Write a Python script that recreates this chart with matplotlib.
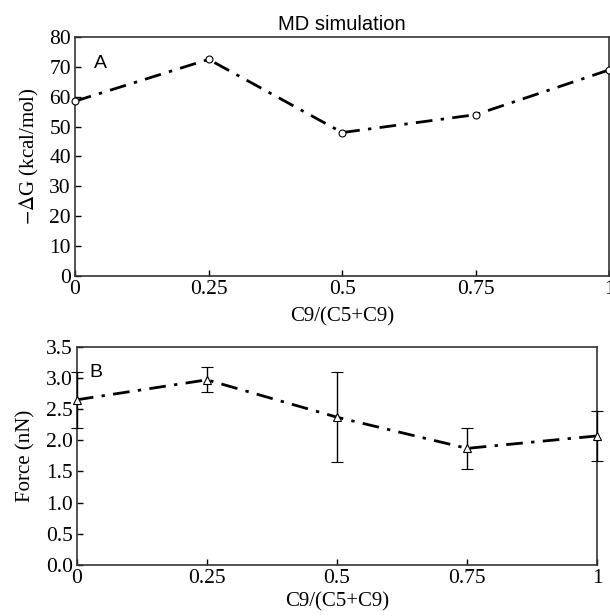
import matplotlib
matplotlib.use("Agg")
import matplotlib.pyplot as plt

# composition ratio C9/(C5+C9)
ratio = [0, 0.25, 0.5, 0.75, 1]
ratio_labels = ["0", "0.25", "0.5", "0.75", "1"]

# panel A: binding free energy from MD
neg_dG = [58.5, 72.5, 48.0, 54.0, 69.0]

# panel B: measured force with error bars
force = [2.65, 2.97, 2.37, 1.87, 2.07]
force_err = [0.45, 0.20, 0.72, 0.33, 0.40]

plt.rcParams['font.family'] = ['Liberation Serif', 'DejaVu Serif']
plt.rcParams['mathtext.fontset'] = 'stix'

fig = plt.figure(figsize=(6.10, 6.16), dpi=100)
ax1 = fig.add_axes([0.123, 0.552, 0.876, 0.388])
ax2 = fig.add_axes([0.126, 0.083, 0.853, 0.354])

dash = (6, 3, 1.2, 3)

# top panel
ax1.plot(ratio, neg_dG, color='black', lw=2, dashes=dash, marker='o',
         ms=5, mfc='white', mec='black', mew=0.8, clip_on=False, zorder=3)
ax1.set_xlim(0, 1)
ax1.set_ylim(0, 80)
ax1.set_yticks(range(0, 81, 10))
ax1.set_xticks(ratio)
ax1.set_xticklabels(ratio_labels)
ax1.set_xlabel('C9/(C5+C9)', fontsize=15, labelpad=6)
ax1.set_ylabel(r'$-\Delta$G (kcal/mol)', fontsize=15, labelpad=6)
ax1.set_title('MD simulation', fontsize=14.5, family='Liberation Sans', pad=5)
ax1.text(0.035, 0.87, 'A', transform=ax1.transAxes, fontsize=14,
         family='Liberation Sans')

# bottom panel
ax2.errorbar(ratio, force, yerr=force_err, color='black', lw=2, dashes=dash,
             marker='^', ms=6, mfc='white', mec='black', mew=0.8,
             ecolor='black', elinewidth=1, capsize=4, capthick=1,
             clip_on=False, zorder=3)
ax2.set_xlim(0, 1)
ax2.set_ylim(0, 3.5)
ax2.set_yticks([0.0, 0.5, 1.0, 1.5, 2.0, 2.5, 3.0, 3.5])
ax2.set_yticklabels([f"{v:.1f}" for v in ax2.get_yticks()])
ax2.set_xticks(ratio)
ax2.set_xticklabels(ratio_labels)
ax2.set_xlabel('C9/(C5+C9)', fontsize=15, labelpad=3)
ax2.set_ylabel('Force (nN)', fontsize=15, labelpad=7)
ax2.text(0.025, 0.86, 'B', transform=ax2.transAxes, fontsize=14,
         family='Liberation Sans')

for ax in (ax1, ax2):
    ax.tick_params(direction='in', labelsize=15.5, length=4, width=1,
                   top=False, right=False, pad=3)
    for s in ax.spines.values():
        s.set_linewidth(1.2)
        s.set_color('#333333')

fig.savefig('out.png', dpi=100)
